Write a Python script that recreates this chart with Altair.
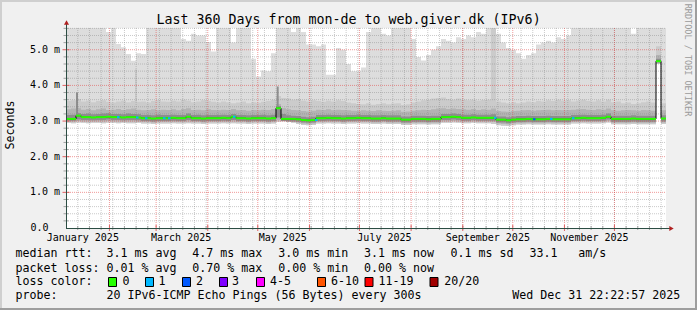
import datetime as dt
import altair as alt
import pandas as pd

# ---------------- data ----------------
TITLE = "Last 360 Days from mon-de to web.giver.dk (IPv6)"
END_TIME = dt.datetime(2025, 12, 31, 22, 22, 57)
SPAN_DAYS = 360
BIN_DAYS = 3
Y_MAX = 5.61  # top of the value axis (ms)

# median rtt per 3-day bin (ms)
MEDIAN = [3.06, 3.06, 3.15, 3.11, 3.11, 3.10, 3.11, 3.11, 3.12, 3.11,
          3.11, 3.10, 3.11, 3.11, 3.10, 3.08, 3.08, 3.07, 3.08, 3.08,
          3.08, 3.09, 3.08, 3.08, 3.12, 3.08, 3.08, 3.07, 3.08, 3.08,
          3.08, 3.09, 3.08, 3.12, 3.08, 3.08, 3.07, 3.08, 3.08, 3.08,
          3.07, 3.08, 3.36, 3.06, 3.06, 3.06, 3.05, 3.03, 3.02, 3.03,
          3.08, 3.08, 3.09, 3.08, 3.08, 3.07, 3.08, 3.08, 3.09, 3.08,
          3.08, 3.07, 3.07, 3.08, 3.07, 3.07, 3.07, 3.04, 3.04, 3.06,
          3.06, 3.06, 3.05, 3.06, 3.06, 3.11, 3.11, 3.12, 3.11, 3.09,
          3.09, 3.10, 3.09, 3.09, 3.09, 3.09, 3.04, 3.04, 3.02, 3.04,
          3.05, 3.05, 3.06, 3.05, 3.05, 3.05, 3.06, 3.05, 3.05, 3.05,
          3.05, 3.08, 3.08, 3.09, 3.08, 3.08, 3.08, 3.09, 3.12, 3.06,
          3.06, 3.06, 3.06, 3.07, 3.06, 3.06, 3.06, 3.06, 4.68, 3.07]

# highest ping per bin (ms); 5.7 = beyond the top of the graph
SMOKE_MAX = [5.7, 5.7, 5.7, 5.7, 5.7, 5.7, 5.7, 5.7, 5.5, 5.7,
             5.16, 5.07, 4.88, 4.69, 4.9, 4.88, 5.7, 5.7, 5.7, 5.7,
             5.7, 5.7, 5.7, 5.3, 5.25, 5.45, 5.4, 5.4, 5.22, 4.95,
             5.7, 5.7, 5.7, 5.2, 5.7, 5.7, 5.7, 4.75, 4.25, 4.42,
             4.4, 4.9, 5.7, 5.7, 5.7, 5.5, 5.7, 5.5, 5.15, 5.15,
             5.1, 5.15, 4.3, 4.3, 5.05, 5.0, 4.6, 4.4, 4.4, 4.5,
             5.5, 5.7, 5.7, 5.45, 5.4, 5.7, 5.7, 5.7, 5.7, 5.3,
             4.8, 4.7, 4.85, 5.0, 5.1, 5.3, 5.25, 5.2, 5.35, 5.3,
             5.4, 5.35, 5.5, 5.45, 5.7, 5.7, 5.45, 5.2, 5.05, 5.0,
             4.9, 4.75, 4.85, 4.9, 5.15, 5.2, 5.25, 5.2, 5.35, 5.3,
             5.4, 5.7, 5.7, 5.7, 5.7, 5.7, 5.7, 5.7, 5.7, 5.7,
             5.7, 5.7, 5.7, 5.45, 5.7, 5.7, 5.7, 5.7, 5.7, 5.7]

# lowest ping per bin (ms)
SMOKE_MIN = [2.95, 2.94, 2.96, 2.95, 2.94, 2.95, 2.95, 2.94, 2.95, 2.95,
             2.94, 2.95, 2.94, 2.94, 2.95, 2.93, 2.93, 2.92, 2.93, 2.93,
             2.93, 2.94, 2.93, 2.93, 2.94, 2.93, 2.93, 2.92, 2.93, 2.93,
             2.93, 2.94, 2.93, 2.94, 2.93, 2.93, 2.92, 2.93, 2.93, 2.93,
             2.92, 2.93, 2.98, 2.99, 2.97, 2.95, 2.92, 2.89, 2.88, 2.89,
             2.93, 2.93, 2.94, 2.93, 2.93, 2.92, 2.93, 2.93, 2.94, 2.93,
             2.93, 2.92, 2.92, 2.93, 2.92, 2.92, 2.92, 2.89, 2.89, 2.91,
             2.91, 2.91, 2.90, 2.91, 2.91, 2.95, 2.95, 2.96, 2.95, 2.94,
             2.94, 2.95, 2.94, 2.94, 2.94, 2.92, 2.88, 2.87, 2.86, 2.88,
             2.90, 2.90, 2.91, 2.90, 2.90, 2.90, 2.91, 2.90, 2.90, 2.90,
             2.90, 2.93, 2.93, 2.94, 2.93, 2.93, 2.93, 2.94, 2.96, 2.91,
             2.91, 2.91, 2.91, 2.92, 2.91, 2.91, 2.91, 2.91, 4.60, 2.92]

# upper edge of the middle smoke band (ms)
BAND_B_TOP = [3.56, 3.58, 3.62, 3.55, 3.57, 3.53, 3.56, 3.58, 3.54, 3.52,
              3.55, 3.57, 3.53, 3.56, 3.54, 3.55, 3.52, 3.56, 3.58, 3.55,
              3.54, 3.57, 3.55, 3.60, 3.57, 3.53, 3.55, 3.58, 3.56, 3.54,
              3.52, 3.55, 3.53, 3.50, 3.52, 3.55, 3.50, 3.53, 3.51, 3.54,
              3.56, 3.60, 3.70, 3.65, 3.63, 3.60, 3.62, 3.57, 3.55, 3.58,
              3.56, 3.54, 3.57, 3.55, 3.58, 3.56, 3.52, 3.50, 3.48, 3.47,
              3.50, 3.46, 3.48, 3.50, 3.47, 3.49, 3.50, 3.45, 3.47, 3.52,
              3.55, 3.58, 3.60, 3.63, 3.65, 3.66, 3.62, 3.60, 3.63, 3.60,
              3.58, 3.60, 3.57, 3.59, 3.60, 5.70, 3.55, 3.52, 3.50, 3.53,
              3.50, 3.52, 3.55, 3.53, 3.56, 3.55, 3.58, 3.56, 3.60, 3.57,
              3.58, 3.55, 3.57, 3.60, 3.56, 3.55, 3.58, 3.55, 3.60, 3.53,
              3.55, 3.50, 3.52, 3.48, 3.50, 3.53, 3.55, 3.52, 5.10, 3.50]

# inner smoke band (ms)
BAND_C_LO = [2.98, 2.98, 3.00, 2.99, 2.99, 2.99, 2.99, 2.99, 3.00, 2.99,
             2.99, 2.98, 2.99, 2.99, 2.98, 2.97, 2.97, 2.96, 2.97, 2.97,
             2.97, 2.98, 2.97, 2.97, 2.99, 2.97, 2.97, 2.96, 2.97, 2.97,
             2.97, 2.98, 2.97, 2.99, 2.97, 2.97, 2.96, 2.97, 2.97, 2.97,
             2.96, 2.97, 3.02, 3.01, 3.00, 2.98, 2.96, 2.93, 2.92, 2.93,
             2.97, 2.97, 2.98, 2.97, 2.97, 2.96, 2.97, 2.97, 2.98, 2.97,
             2.97, 2.96, 2.96, 2.97, 2.96, 2.96, 2.96, 2.93, 2.93, 2.95,
             2.95, 2.95, 2.94, 2.95, 2.95, 2.99, 2.99, 3.00, 2.99, 2.98,
             2.98, 2.99, 2.98, 2.98, 2.98, 2.97, 2.93, 2.92, 2.91, 2.93,
             2.94, 2.94, 2.95, 2.94, 2.94, 2.94, 2.95, 2.94, 2.94, 2.94,
             2.94, 2.97, 2.97, 2.98, 2.97, 2.97, 2.97, 2.98, 3.00, 2.95,
             2.95, 2.95, 2.95, 2.96, 2.95, 2.95, 2.95, 2.95, 4.62, 2.96]
BAND_C_TOP = [3.33, 3.35, 3.36, 3.32, 3.34, 3.30, 3.33, 3.35, 3.31, 3.32,
              3.34, 3.31, 3.33, 3.35, 3.32, 3.30, 3.31, 3.33, 3.30, 3.32,
              3.31, 3.33, 3.30, 3.34, 3.36, 3.31, 3.32, 3.30, 3.33, 3.31,
              3.30, 3.32, 3.31, 3.34, 3.30, 3.31, 3.29, 3.31, 3.30, 3.32,
              3.31, 3.34, 3.48, 3.36, 3.33, 3.31, 3.30, 3.28, 3.27, 3.29,
              3.32, 3.31, 3.33, 3.30, 3.32, 3.31, 3.30, 3.29, 3.28, 3.30,
              3.29, 3.28, 3.30, 3.29, 3.28, 3.29, 3.30, 3.26, 3.27, 3.29,
              3.30, 3.32, 3.31, 3.33, 3.35, 3.36, 3.34, 3.35, 3.34, 3.33,
              3.32, 3.34, 3.31, 3.33, 3.32, 3.35, 3.28, 3.27, 3.26, 3.28,
              3.29, 3.30, 3.31, 3.29, 3.30, 3.31, 3.32, 3.30, 3.31, 3.30,
              3.31, 3.32, 3.33, 3.34, 3.32, 3.31, 3.33, 3.32, 3.35, 3.30,
              3.29, 3.30, 3.31, 3.30, 3.29, 3.31, 3.30, 3.29, 4.85, 3.30]

# darkest smoke band around the median (ms)
BAND_D_LO = [3.01, 3.01, 3.04, 3.03, 3.03, 3.02, 3.03, 3.03, 3.04, 3.03,
             3.03, 3.02, 3.03, 3.03, 3.02, 3.00, 3.00, 2.99, 3.00, 3.00,
             3.00, 3.01, 3.00, 3.00, 3.03, 3.00, 3.00, 2.99, 3.00, 3.00,
             3.00, 3.01, 3.00, 3.03, 3.00, 3.00, 2.99, 3.00, 3.00, 3.00,
             2.99, 3.00, 3.10, 3.00, 2.99, 2.99, 2.98, 2.96, 2.95, 2.96,
             3.00, 3.00, 3.01, 3.00, 3.00, 2.99, 3.00, 3.00, 3.01, 3.00,
             3.00, 2.99, 2.99, 3.00, 2.99, 2.99, 2.99, 2.96, 2.96, 2.98,
             2.98, 2.98, 2.97, 2.98, 2.98, 3.03, 3.03, 3.04, 3.03, 3.01,
             3.01, 3.02, 3.01, 3.01, 3.01, 3.01, 2.96, 2.96, 2.94, 2.96,
             2.97, 2.97, 2.98, 2.97, 2.97, 2.97, 2.98, 2.97, 2.97, 2.97,
             2.97, 3.00, 3.00, 3.01, 3.00, 3.00, 3.00, 3.01, 3.04, 2.98,
             2.98, 2.98, 2.98, 2.99, 2.98, 2.98, 2.98, 2.98, 4.64, 2.99]
BAND_D_TOP = [3.17, 3.18, 3.22, 3.20, 3.21, 3.19, 3.20, 3.21, 3.22, 3.20,
              3.20, 3.19, 3.21, 3.20, 3.19, 3.17, 3.17, 3.16, 3.18, 3.17,
              3.17, 3.18, 3.17, 3.17, 3.21, 3.17, 3.18, 3.16, 3.17, 3.17,
              3.17, 3.18, 3.17, 3.20, 3.17, 3.17, 3.16, 3.17, 3.17, 3.18,
              3.16, 3.18, 3.42, 3.20, 3.16, 3.15, 3.14, 3.12, 3.11, 3.12,
              3.17, 3.17, 3.18, 3.17, 3.17, 3.16, 3.17, 3.17, 3.18, 3.17,
              3.17, 3.16, 3.16, 3.17, 3.16, 3.16, 3.16, 3.13, 3.13, 3.15,
              3.15, 3.15, 3.14, 3.15, 3.15, 3.20, 3.20, 3.21, 3.20, 3.18,
              3.18, 3.19, 3.18, 3.18, 3.18, 3.19, 3.13, 3.13, 3.11, 3.13,
              3.14, 3.14, 3.15, 3.14, 3.14, 3.14, 3.15, 3.14, 3.14, 3.14,
              3.14, 3.17, 3.17, 3.18, 3.17, 3.17, 3.17, 3.18, 3.21, 3.15,
              3.15, 3.15, 3.15, 3.16, 3.15, 3.15, 3.15, 3.15, 4.75, 3.16]

# thin smoke streaks (day offset, top and base in ms, shade index)
STREAK_DAY = [6.6, 42.0, 127.0]
STREAK_TOP = [3.80, 4.45, 3.97]
STREAK_BASE = [3.15, 3.50, 3.36]
STREAK_SHADE = [3, 1, 3]

# moments with packet loss (day offset) and their loss class index
LOSS_DAYS = [30.6, 42.0, 47.4, 58.2, 61.2, 100.2, 149.4, 256.8, 280.2, 290.4, 303.6]
LOSS_CLASS = [1, 1, 1, 1, 1, 1, 1, 1, 2, 1, 1]

LOSS_LABELS = ["0", "1", "2", "3", "4-5", "6-10", "11-19", "20/20"]
LOSS_COLORS = ["#26ff00", "#00b8ff", "#0059ff", "#7e00ff",
               "#ff00ff", "#ff5500", "#ff0000", "#a10000"]

RTT_STATS = ["3.1 ms avg", "4.7 ms max", "3.0 ms min", "3.1 ms now",
             "0.1 ms sd", "33.1", "am/s"]
LOSS_STATS = ["0.01 % avg", "0.70 % max", "0.00 % min", "0.00 % now"]
ROW_NAMES = ["median rtt:", "packet loss:", "loss color:", "probe:"]
PROBE_TEXT = "20 IPv6-ICMP Echo Pings (56 Bytes) every 300s"
STAMP_TEXT = "Wed Dec 31 22:22:57 2025"
Y_LABEL_VALUES = [1, 2, 3, 4, 5]
Y_LABELS = ["1.0 m", "2.0 m", "3.0 m", "4.0 m", "5.0 m"]
ZERO_LABEL = "0.0"
X_LABEL_MONTHS = [1, 3, 5, 7, 9, 11]
MONTH_NAMES = ["January", "February", "March", "April", "May", "June", "July",
               "August", "September", "October", "November", "December"]

# ---------------- layout / style (not data) ----------------
W, H = 600, 200
MONO = "DejaVu Sans Mono"
FS = 11.63
AXIS_FS = 10.0
BG = "#f0f0f0"
AXIS_COLOR = "#2c4d43"
ARROW_COLOR = "#b02020"
MINOR_GRID = "rgba(128,128,128,0.42)"
MAJOR_GRID = "rgba(225,70,70,0.55)"
SMOKE_COLORS = ["#dddddd", "#cbcbcb", "#b3b3b3", "#8e8e8e"]
ROW_Y = [229.3, 243.5, 257.0, 271.3]
NAME_X = -50.5
RTT_X = [40.5, 126.3, 212.3, 298.0, 384.5, 463.5, 512.3]
LOSS_X = [40.5, 126.3, 212.3, 298.0]
BOX_X = [42.5, 79.5, 116.5, 153.5, 190.5, 251.5, 299.0, 364.0]
BOX_W, BOX_Y0, BOX_Y1 = 8, 249.5, 258.5
BOX_LABEL_X = [56.5, 92.5, 130.0, 166.0, 204.0, 265.0, 312.5, 378.3]
STAMP_X = 446.2

START_TIME = END_TIME - dt.timedelta(days=SPAN_DAYS)


def day_of(t):
    return (t - START_TIME).total_seconds() / 86400.0


NB = len(MEDIAN)
rows = []
for i in range(NB + 1):
    j = min(i, NB - 1)
    rows.append(dict(d=i * BIN_DAYS, mx=SMOKE_MAX[j], mn=SMOKE_MIN[j],
                     bt=BAND_B_TOP[j], cl=BAND_C_LO[j], ct=BAND_C_TOP[j],
                     dl=BAND_D_LO[j], dtop=BAND_D_TOP[j], med=MEDIAN[j]))
smoke = pd.DataFrame(rows)
segs = pd.DataFrame(dict(d0=[i * BIN_DAYS for i in range(NB)],
                         d1=[(i + 1) * BIN_DAYS for i in range(NB)],
                         med=MEDIAN))
loss = pd.DataFrame(dict(d0=LOSS_DAYS,
                         d1=[d + 1.5 for d in LOSS_DAYS],
                         med=[MEDIAN[int(d // BIN_DAYS)] for d in LOSS_DAYS],
                         col=[LOSS_COLORS[c] for c in LOSS_CLASS]))
streak = pd.DataFrame(dict(d=STREAK_DAY, top=STREAK_TOP, base=STREAK_BASE,
                           col=[SMOKE_COLORS[s] for s in STREAK_SHADE]))

# calendar grid
month_days = []
for m in range(1, 13):
    t = dt.datetime(2025, m, 1)
    if START_TIME < t < END_TIME:
        month_days.append(day_of(t))
week_days = []
t = dt.datetime(2025, 1, 6)
while t < END_TIME:
    if t > START_TIME + dt.timedelta(hours=12):
        week_days.append(day_of(t))
    t += dt.timedelta(days=7)
mgrid = pd.DataFrame(dict(d=month_days))
wgrid = pd.DataFrame(dict(d=week_days))
hminor = pd.DataFrame(dict(v=[k / 5 for k in range(1, 29) if k % 5 != 0]))
hmajor = pd.DataFrame(dict(v=Y_LABEL_VALUES))
xlab = pd.DataFrame(dict(d=[day_of(dt.datetime(2025, m, 16)) for m in X_LABEL_MONTHS],
                         t=[f"{MONTH_NAMES[m - 1]} 2025" for m in X_LABEL_MONTHS]))
ylab = pd.DataFrame(dict(v=Y_LABEL_VALUES, t=Y_LABELS))

xs = alt.Scale(domain=[0, SPAN_DAYS], nice=False, zero=False)
ys = alt.Scale(domain=[0, Y_MAX], nice=False, zero=False)


def X(f):
    return alt.X(f, type="quantitative", scale=xs, axis=None)


def Y(f):
    return alt.Y(f, type="quantitative", scale=ys, axis=None)


one = pd.DataFrame({"a": [0]})
layers = []

# smoke
for top, bot, col in [("mx", "mn", SMOKE_COLORS[0]), ("bt", "mn", SMOKE_COLORS[1]),
                      ("ct", "cl", SMOKE_COLORS[2]), ("dtop", "dl", SMOKE_COLORS[3])]:
    layers.append(alt.Chart(smoke).mark_area(interpolate="step-after", color=col,
                                             clip=True, opacity=1)
                  .encode(x=X("d"), y=Y(top), y2=alt.Y2(bot)))
layers.append(alt.Chart(streak).mark_rule(strokeWidth=2)
              .encode(x=X("d"), y=Y("top"), y2=alt.Y2("base"),
                      color=alt.Color("col:N", scale=None)))

# grid
layers.append(alt.Chart(wgrid).mark_rule(color=MINOR_GRID, strokeDash=[1, 1], strokeWidth=1)
              .encode(x=X("d"), y=alt.value(0), y2=alt.value(H)))
layers.append(alt.Chart(hminor).mark_rule(color=MINOR_GRID, strokeDash=[1, 1], strokeWidth=1)
              .encode(y=Y("v"), x=alt.value(0), x2=alt.value(W)))
layers.append(alt.Chart(mgrid).mark_rule(color=MAJOR_GRID, strokeDash=[1, 1], strokeWidth=1)
              .encode(x=X("d"), y=alt.value(0), y2=alt.value(H)))
layers.append(alt.Chart(hmajor).mark_rule(color=MAJOR_GRID, strokeDash=[1, 1], strokeWidth=1)
              .encode(y=Y("v"), x=alt.value(0), x2=alt.value(W)))

# median
layers.append(alt.Chart(smoke).mark_line(interpolate="step-after", color="#000000",
                                         strokeWidth=1)
              .encode(x=X("d"), y=Y("med")))
layers.append(alt.Chart(segs).mark_rule(color=LOSS_COLORS[0], strokeWidth=2)
              .encode(x=X("d0"), x2=alt.X2("d1"), y=Y("med")))
layers.append(alt.Chart(loss).mark_rule(strokeWidth=2)
              .encode(x=X("d0"), x2=alt.X2("d1"), y=Y("med"),
                      color=alt.Color("col:N", scale=None)))

# axis ticks
layers.append(alt.Chart(wgrid).mark_rule(color="#a0a0a0", strokeWidth=1)
              .encode(x=X("d"), y=alt.value(H - 2), y2=alt.value(H + 2)))
layers.append(alt.Chart(mgrid).mark_rule(color="#e06060", strokeWidth=1)
              .encode(x=X("d"), y=alt.value(H - 3), y2=alt.value(H + 3)))
layers.append(alt.Chart(hminor).mark_rule(color="#a0a0a0", strokeWidth=1)
              .encode(y=Y("v"), x=alt.value(-2.5), x2=alt.value(2.5)))
layers.append(alt.Chart(hmajor).mark_rule(color="#e06060", strokeWidth=1)
              .encode(y=Y("v"), x=alt.value(-3.5), x2=alt.value(3.5)))

# axes and arrows
layers.append(alt.Chart(one).mark_rule(color=AXIS_COLOR, strokeWidth=1)
              .encode(x=alt.value(0.5), y=alt.value(-6), y2=alt.value(H + 0.5)))
layers.append(alt.Chart(one).mark_rule(color=AXIS_COLOR, strokeWidth=1)
              .encode(x=alt.value(0), x2=alt.value(W + 5), y=alt.value(H + 0.5)))
layers.append(alt.Chart(one).mark_point(shape="triangle-up", filled=True, size=26,
                                        color=ARROW_COLOR, opacity=1)
              .encode(x=alt.value(0.5), y=alt.value(-5.5)))
layers.append(alt.Chart(one).mark_point(shape="triangle-right", filled=True, size=26,
                                        color=ARROW_COLOR, opacity=1)
              .encode(x=alt.value(W + 5.5), y=alt.value(H + 0.5)))

# axis labels
layers.append(alt.Chart(ylab).mark_text(font=MONO, fontSize=AXIS_FS, align="right",
                                        baseline="middle", color="#000000")
              .encode(y=Y("v"), x=alt.value(-6), text="t:N"))
layers.append(alt.Chart(one).mark_text(font=MONO, fontSize=AXIS_FS, align="right",
                                       baseline="middle", color="#000000")
              .encode(y=alt.value(H), x=alt.value(-17.5), text=alt.value(ZERO_LABEL)))
layers.append(alt.Chart(xlab).mark_text(font=MONO, fontSize=AXIS_FS, align="center",
                                        baseline="alphabetic", color="#000000")
              .encode(x=X("d"), y=alt.value(212.5), text="t:N"))

# title, y title, watermark
layers.append(alt.Chart(one).mark_text(font=MONO, fontSize=13.3, align="center",
                                       baseline="alphabetic", color="#000000")
              .encode(x=alt.value(282.5), y=alt.value(-4), text=alt.value(TITLE)))
layers.append(alt.Chart(one).mark_text(font=MONO, fontSize=FS, align="center",
                                       baseline="middle", angle=270, color="#000000")
              .encode(x=alt.value(-55), y=alt.value(97), text=alt.value("Seconds")))
layers.append(alt.Chart(one).mark_text(font=MONO, fontSize=8.5, align="center",
                                       baseline="middle", angle=90, color="#9a9a9a")
              .encode(x=alt.value(621.5), y=alt.value(32),
                      text=alt.value("RRDTOOL / TOBI OETIKER")))

# legend texts
tx, ty, tt = [], [], []
for k, name in enumerate(ROW_NAMES):
    tx.append(NAME_X); ty.append(ROW_Y[k]); tt.append(name)
for x_, s in zip(RTT_X, RTT_STATS):
    tx.append(x_); ty.append(ROW_Y[0]); tt.append(s)
for x_, s in zip(LOSS_X, LOSS_STATS):
    tx.append(x_); ty.append(ROW_Y[1]); tt.append(s)
for x_, s in zip(BOX_LABEL_X, LOSS_LABELS):
    tx.append(x_); ty.append(ROW_Y[2]); tt.append(s)
tx.append(40.5); ty.append(ROW_Y[3]); tt.append(PROBE_TEXT)
tx.append(STAMP_X); ty.append(ROW_Y[3]); tt.append(STAMP_TEXT)
legend_txt = pd.DataFrame(dict(tx=tx, ty=ty, t=tt))
layers.append(alt.Chart(legend_txt).mark_text(font=MONO, fontSize=FS, align="left",
                                              baseline="alphabetic", color="#000000")
              .encode(x=alt.X("tx:Q", scale=None), y=alt.Y("ty:Q", scale=None), text="t:N"))

boxes = pd.DataFrame(dict(x0=BOX_X, x1=[b + BOX_W for b in BOX_X],
                          y0=[BOX_Y0] * len(BOX_X), y1=[BOX_Y1] * len(BOX_X),
                          col=LOSS_COLORS))
layers.append(alt.Chart(boxes).mark_rect(stroke="#000000", strokeWidth=1)
              .encode(x=alt.X("x0:Q", scale=None), x2="x1:Q",
                      y=alt.Y("y0:Q", scale=None), y2="y1:Q",
                      fill=alt.Fill("col:N", scale=None)))

# 3-D frame of the picture
for (x0, x1, y0, y1, c) in [(-66, 631, -28, -26, "#cfcfcf"), (-66, -64, -28, 282, "#cfcfcf"),
                            (629, 631, -28, 282, "#9e9e9e"), (-66, 631, 280, 282, "#9e9e9e")]:
    layers.append(alt.Chart(one).mark_rect(color=c, opacity=1)
                  .encode(x=alt.value(x0), x2=alt.value(x1), y=alt.value(y0), y2=alt.value(y1)))

chart = (alt.layer(*layers)
         .properties(width=W, height=H, background=BG,
                     padding={"left": 66, "top": 28, "right": 31, "bottom": 82},
                     autosize=alt.AutoSizeParams(type="none"))
         .configure_view(stroke=None, fill="#ffffff"))

chart.save("out.html", embed_options={"renderer": "svg", "actions": False})
